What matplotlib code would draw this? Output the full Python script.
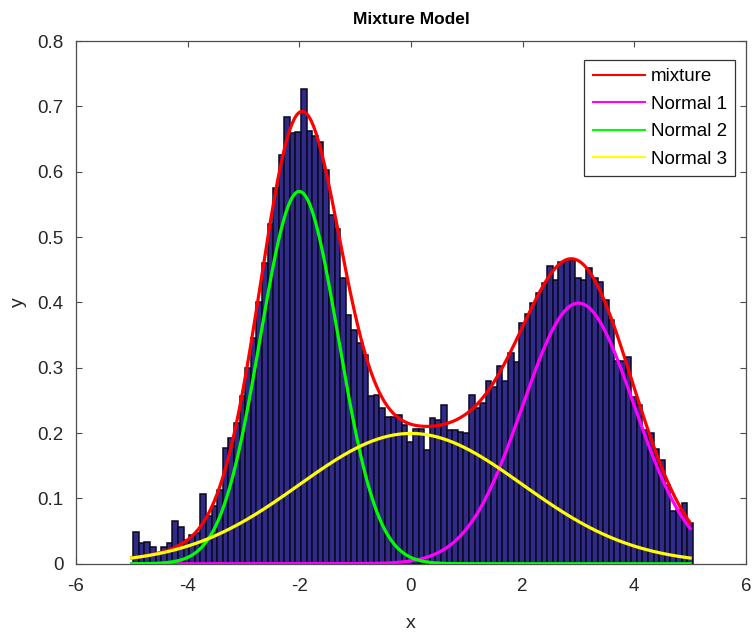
import numpy as np
import matplotlib
matplotlib.use('Agg')
import matplotlib.pyplot as plt

plt.rcParams['font.family'] = ['Liberation Sans', 'DejaVu Sans']
plt.rcParams['axes.unicode_minus'] = False

# histogram: 100 bins between bin_lo and bin_hi
bin_lo = -4.974
bin_hi = 5.046
counts = [0.048, 0.032, 0.034, 0.026, 0.016, 0.026, 0.032, 0.066, 0.056, 0.037,
          0.044, 0.047, 0.107, 0.073, 0.088, 0.113, 0.177, 0.192, 0.215, 0.256,
          0.300, 0.345, 0.400, 0.460, 0.520, 0.575, 0.625, 0.684, 0.659, 0.661,
          0.727, 0.662, 0.655, 0.645, 0.602, 0.534, 0.513, 0.437, 0.380, 0.358,
          0.338, 0.320, 0.256, 0.258, 0.238, 0.225, 0.225, 0.228, 0.212, 0.187,
          0.207, 0.207, 0.174, 0.223, 0.220, 0.243, 0.205, 0.205, 0.202, 0.200,
          0.258, 0.238, 0.246, 0.279, 0.271, 0.302, 0.279, 0.322, 0.309, 0.368,
          0.383, 0.399, 0.414, 0.429, 0.455, 0.434, 0.462, 0.464, 0.465, 0.437,
          0.435, 0.452, 0.437, 0.432, 0.404, 0.373, 0.310, 0.310, 0.317, 0.255,
          0.243, 0.205, 0.200, 0.175, 0.159, 0.120, 0.080, 0.082, 0.093, 0.062]

# mixture components (weight, mean, sigma)
comp_names = ['Normal 1', 'Normal 2', 'Normal 3']
comp_w = [1.0, 1.0, 1.0]
comp_mu = [3.0, -2.0, 0.0]
comp_sd = [1.0, 0.7, 2.0]
comp_colors = ['#ff00ff', '#00ff00', '#ffff00']

x_lo, x_hi = -5.0, 5.0


def normpdf(x, mu, sd):
    return np.exp(-0.5 * ((x - mu) / sd) ** 2) / (sd * np.sqrt(2 * np.pi))


edges = np.linspace(bin_lo, bin_hi, len(counts) + 1)
centers = 0.5 * (edges[:-1] + edges[1:])
bw = edges[1] - edges[0]

xx = np.linspace(x_lo, x_hi, 400)
parts = [w * normpdf(xx, m, s) for w, m, s in zip(comp_w, comp_mu, comp_sd)]
mix = np.sum(parts, axis=0)

fig = plt.figure(figsize=(7.52, 6.32), dpi=100)
ax = fig.add_axes([0.101, 0.108, 0.891, 0.827])

ax.bar(centers, counts, width=bw, align='center', color='#312b88',
       edgecolor='#0a0920', linewidth=1.1, zorder=2)

ax.plot(xx, mix, color='#ff0000', lw=2.3, label='mixture', zorder=3)
for p, c, n in zip(parts, comp_colors, comp_names):
    ax.plot(xx, p, color=c, lw=2.3, label=n, zorder=3)

ax.set_xlim(-6, 6)
ax.set_ylim(0, 0.8)
ax.set_xticks(np.arange(-6, 7, 2))
ax.set_yticks(np.arange(0, 0.81, 0.1))
ax.set_yticklabels(['0', '0.1', '0.2', '0.3', '0.4', '0.5', '0.6', '0.7', '0.8'])

gray = '#262626'
for sp in ax.spines.values():
    sp.set_color('#4d4d4d')
    sp.set_linewidth(0.9)
ax.tick_params(direction='in', top=True, right=True, length=4, width=0.8,
               colors='#4d4d4d', labelcolor=gray, labelsize=13.5)
ax.tick_params(axis='x', pad=10.5)
ax.tick_params(axis='y', pad=9)

ax.set_title('Mixture Model', fontsize=12.5, fontweight='bold', pad=12.5)
ax.set_xlabel('x', fontsize=14, color=gray, labelpad=14)
ax.set_ylabel('y', fontsize=14, color=gray, labelpad=7.5)

leg = ax.legend(loc='upper right', bbox_to_anchor=(0.984, 0.964), borderaxespad=0,
                fontsize=13.5, handlelength=2.8, labelspacing=0.55, handletextpad=0.3,
                borderpad=0.45, fancybox=False, framealpha=1)
leg.get_frame().set_edgecolor('#333333')
leg.get_frame().set_linewidth(0.9)
for line in leg.get_lines():
    line.set_linewidth(1.5)

fig.savefig('out.png', dpi=100)
